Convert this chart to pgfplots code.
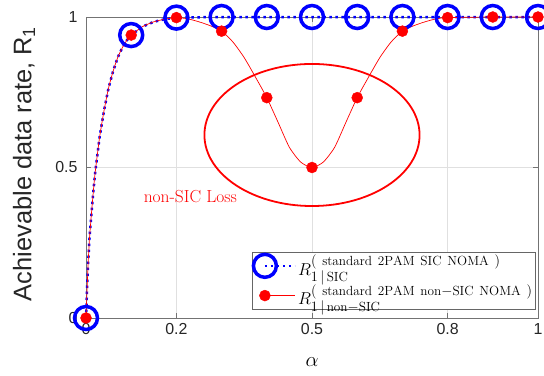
\documentclass[border=0pt]{standalone}
\usepackage{pgfplots}
\pgfplotsset{compat=1.18}
\usepackage{fontspec}
\setsansfont{Liberation Sans}
\begin{document}
\begin{tikzpicture}
\begin{axis}[
  scale only axis, width=452bp, height=301bp,
  xmin=0, xmax=1, ymin=0, ymax=1,
  xtick={0,0.2,0.5,0.8,1},
  ytick={0,0.5,1},
  /pgf/number format/assume math mode=true,
  grid=major, grid style={black!12, line width=0.6bp},
  axis line style={black!55, line width=0.8bp},
  tick style={black!55, line width=0.8bp},
  major tick length=5bp,
  tick align=inside,
  tick label style={font=\sffamily\fontsize{16}{18}\selectfont, text=black!85},
  yticklabel style={xshift=-5bp},
  xticklabel style={yshift=-2bp},
  xlabel={$\alpha$},
  xlabel style={font=\fontsize{20}{22}\selectfont, at={(axis description cs:0.5,-0.148)}, anchor=center},
  ylabel={Achievable data rate, R\textsubscript{1}},
  ylabel style={font=\sffamily\fontsize{25.5}{27}\selectfont, text=black!85, at={(axis description cs:-0.137,0.512)}, anchor=center},
  clip=false,
  legend style={at={(axis description cs:0.9956,0.027)}, anchor=south east, draw=black!60, line width=0.8bp, fill=white,
    font=\fontsize{19}{21}\selectfont, inner sep=1bp, row sep=4bp, cells={anchor=west, inner xsep=2bp}},
  legend image code/.code={\draw[mark repeat=2,mark phase=2] plot coordinates {(0bp,0bp) (15bp,0bp) (30bp,0bp)};},
]
\addplot[blue, line width=2.5bp, dash pattern=on 2.5bp off 3.5bp, mark=o, mark size=11.5bp,
  mark options={solid, line width=3.5bp}, mark indices={1,15,19,20,21,22,23,24,25,26,27}]
coordinates {(0,0)(0.0025,0.10)(0.005,0.19)(0.0075,0.26)(0.01,0.31)(0.015,0.40)(0.02,0.48)(0.03,0.60)(0.04,0.69)(0.05,0.765)(0.06,0.82)(0.07,0.865)(0.08,0.897)(0.09,0.922)(0.1,0.94)(0.125,0.968)(0.15,0.984)(0.175,0.993)(0.2,0.998)(0.3,1)(0.4,1)(0.5,1)(0.6,1)(0.7,1)(0.8,1)(0.9,1)(1,1)};
\addlegendentry{$R_{1\,|\,\mathrm{SIC}}^{(\ \mathrm{standard\ 2PAM\ SIC\ NOMA}\ )}$}
\addplot[red, line width=0.7bp, smooth, tension=0.4, mark=*, mark size=5.5bp, mark options={solid, line width=0.4bp},
  mark indices={1,15,19,23,27,31,35,39,43,44,45}]
coordinates {(0,0)(0.0025,0.10)(0.005,0.19)(0.0075,0.26)(0.01,0.31)(0.015,0.40)(0.02,0.48)(0.03,0.60)(0.04,0.69)(0.05,0.765)(0.06,0.82)(0.07,0.865)(0.08,0.897)(0.09,0.922)(0.1,0.94)(0.125,0.968)(0.15,0.984)(0.175,0.993)(0.2,0.998)
(0.225,0.994)(0.25,0.984)(0.275,0.971)(0.3,0.953)(0.325,0.917)(0.35,0.865)(0.375,0.80)(0.4,0.732)(0.425,0.65)(0.45,0.567)(0.475,0.518)(0.5,0.50)
(0.525,0.518)(0.55,0.567)(0.575,0.65)(0.6,0.732)(0.625,0.80)(0.65,0.865)(0.675,0.917)(0.7,0.953)(0.725,0.971)(0.75,0.984)(0.775,0.994)(0.8,0.998)(0.9,1)(1,1)};
\addlegendentry{$R_{1\,|\,\mathrm{non-SIC}}^{(\ \mathrm{standard\ 2PAM\ non-SIC\ NOMA}\ )}$}
\draw[red, line width=1.8bp] (axis cs:0.5,0.608) ellipse [x radius=0.238, y radius=0.236];
\node[red, font=\fontsize{17.5}{20}\selectfont] at (axis cs:0.231,0.402) {non-SIC Loss};
\coordinate (bbsw) at (axis description cs:-0.1903,-0.1927);
\coordinate (bbne) at (axis description cs:1.0133,1.0565);
\end{axis}
\pgfresetboundingbox
\useasboundingbox (bbsw) rectangle (bbne);
\end{tikzpicture}
\end{document}
